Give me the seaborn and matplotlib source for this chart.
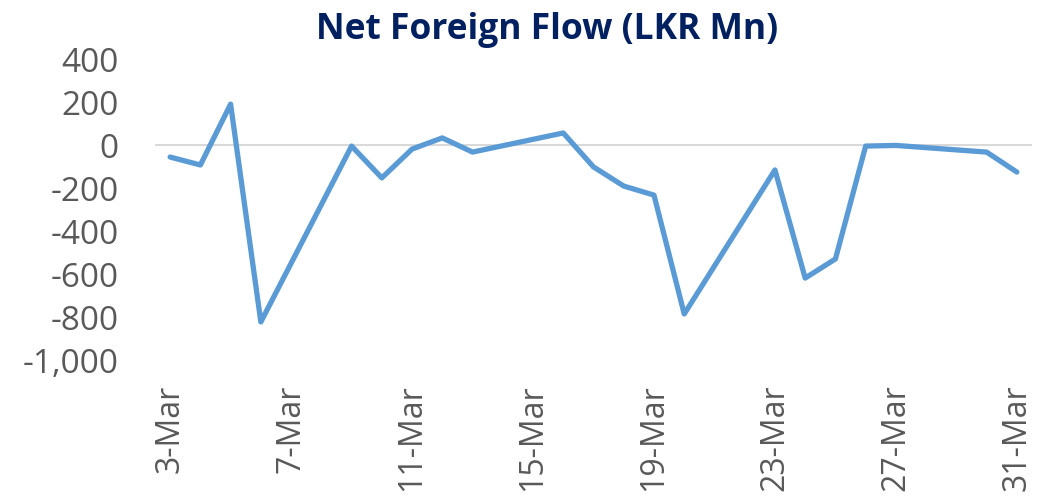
import matplotlib
matplotlib.use("Agg")
import matplotlib.pyplot as plt
import seaborn as sns
import pandas as pd

dates = ["2020-03-03", "2020-03-04", "2020-03-05", "2020-03-06", "2020-03-09",
         "2020-03-10", "2020-03-11", "2020-03-12", "2020-03-13", "2020-03-16",
         "2020-03-17", "2020-03-18", "2020-03-19", "2020-03-20", "2020-03-23",
         "2020-03-24", "2020-03-25", "2020-03-26", "2020-03-27", "2020-03-30",
         "2020-03-31"]
net_flow = [-56, -93, 190, -823, -5,
            -153, -19, 33, -33, 56,
            -102, -191, -233, -786, -116,
            -619, -530, -5, -2, -33,
            -126]
tick_dates = ["2020-03-03", "2020-03-07", "2020-03-11", "2020-03-15",
              "2020-03-19", "2020-03-23", "2020-03-27", "2020-03-31"]
tick_labels = ["3-Mar", "7-Mar", "11-Mar", "15-Mar", "19-Mar", "23-Mar", "27-Mar", "31-Mar"]
y_ticks = [400, 200, 0, -200, -400, -600, -800, -1000]
y_labels = ["400", "200", "0", "-200", "-400", "-600", "-800", "-1,000"]

sns.set_theme(style="white")
plt.rcParams['font.family'] = ['Open Sans', 'DejaVu Sans']

df = pd.DataFrame({"date": pd.to_datetime(dates), "flow": net_flow})

fig = plt.figure(figsize=(10.38, 5.02), dpi=100)
ax = fig.add_axes([155/1038, 1 - 361/502, (1032 - 155)/1038, (361 - 60)/502])

ax.axhline(0, color="#D9D9D9", lw=1.5, zorder=1)
sns.lineplot(data=df, x="date", y="flow", ax=ax, color="#5B9BD5", lw=3.8,
             solid_joinstyle="round", solid_capstyle="round", zorder=3)

start = pd.Timestamp("2020-03-02 12:00")
end = pd.Timestamp("2020-03-31 12:00")
ax.set_xlim(start, end)
ax.set_ylim(-1000, 400)

ax.set_xticks(pd.to_datetime(tick_dates))
ax.set_xticklabels(tick_labels, rotation=90, fontsize=23, color="#595959")
ax.set_yticks(y_ticks)
ax.set_yticklabels(y_labels, fontsize=24, color="#595959")
ax.tick_params(axis="y", length=0, pad=26)
ax.tick_params(axis="x", length=0, pad=17)
for lab in ax.get_xticklabels():
    lab.set_verticalalignment("top")

ax.set_xlabel("")
ax.set_ylabel("")
for s in ax.spines.values():
    s.set_visible(False)
ax.grid(False)

fig.text(547/1038, 1 - 30/502, "Net Foreign Flow (LKR Mn)", ha="center", va="center",
         fontsize=25.5, fontweight="bold", color="#002060")

fig.savefig("out.png", dpi=100)
